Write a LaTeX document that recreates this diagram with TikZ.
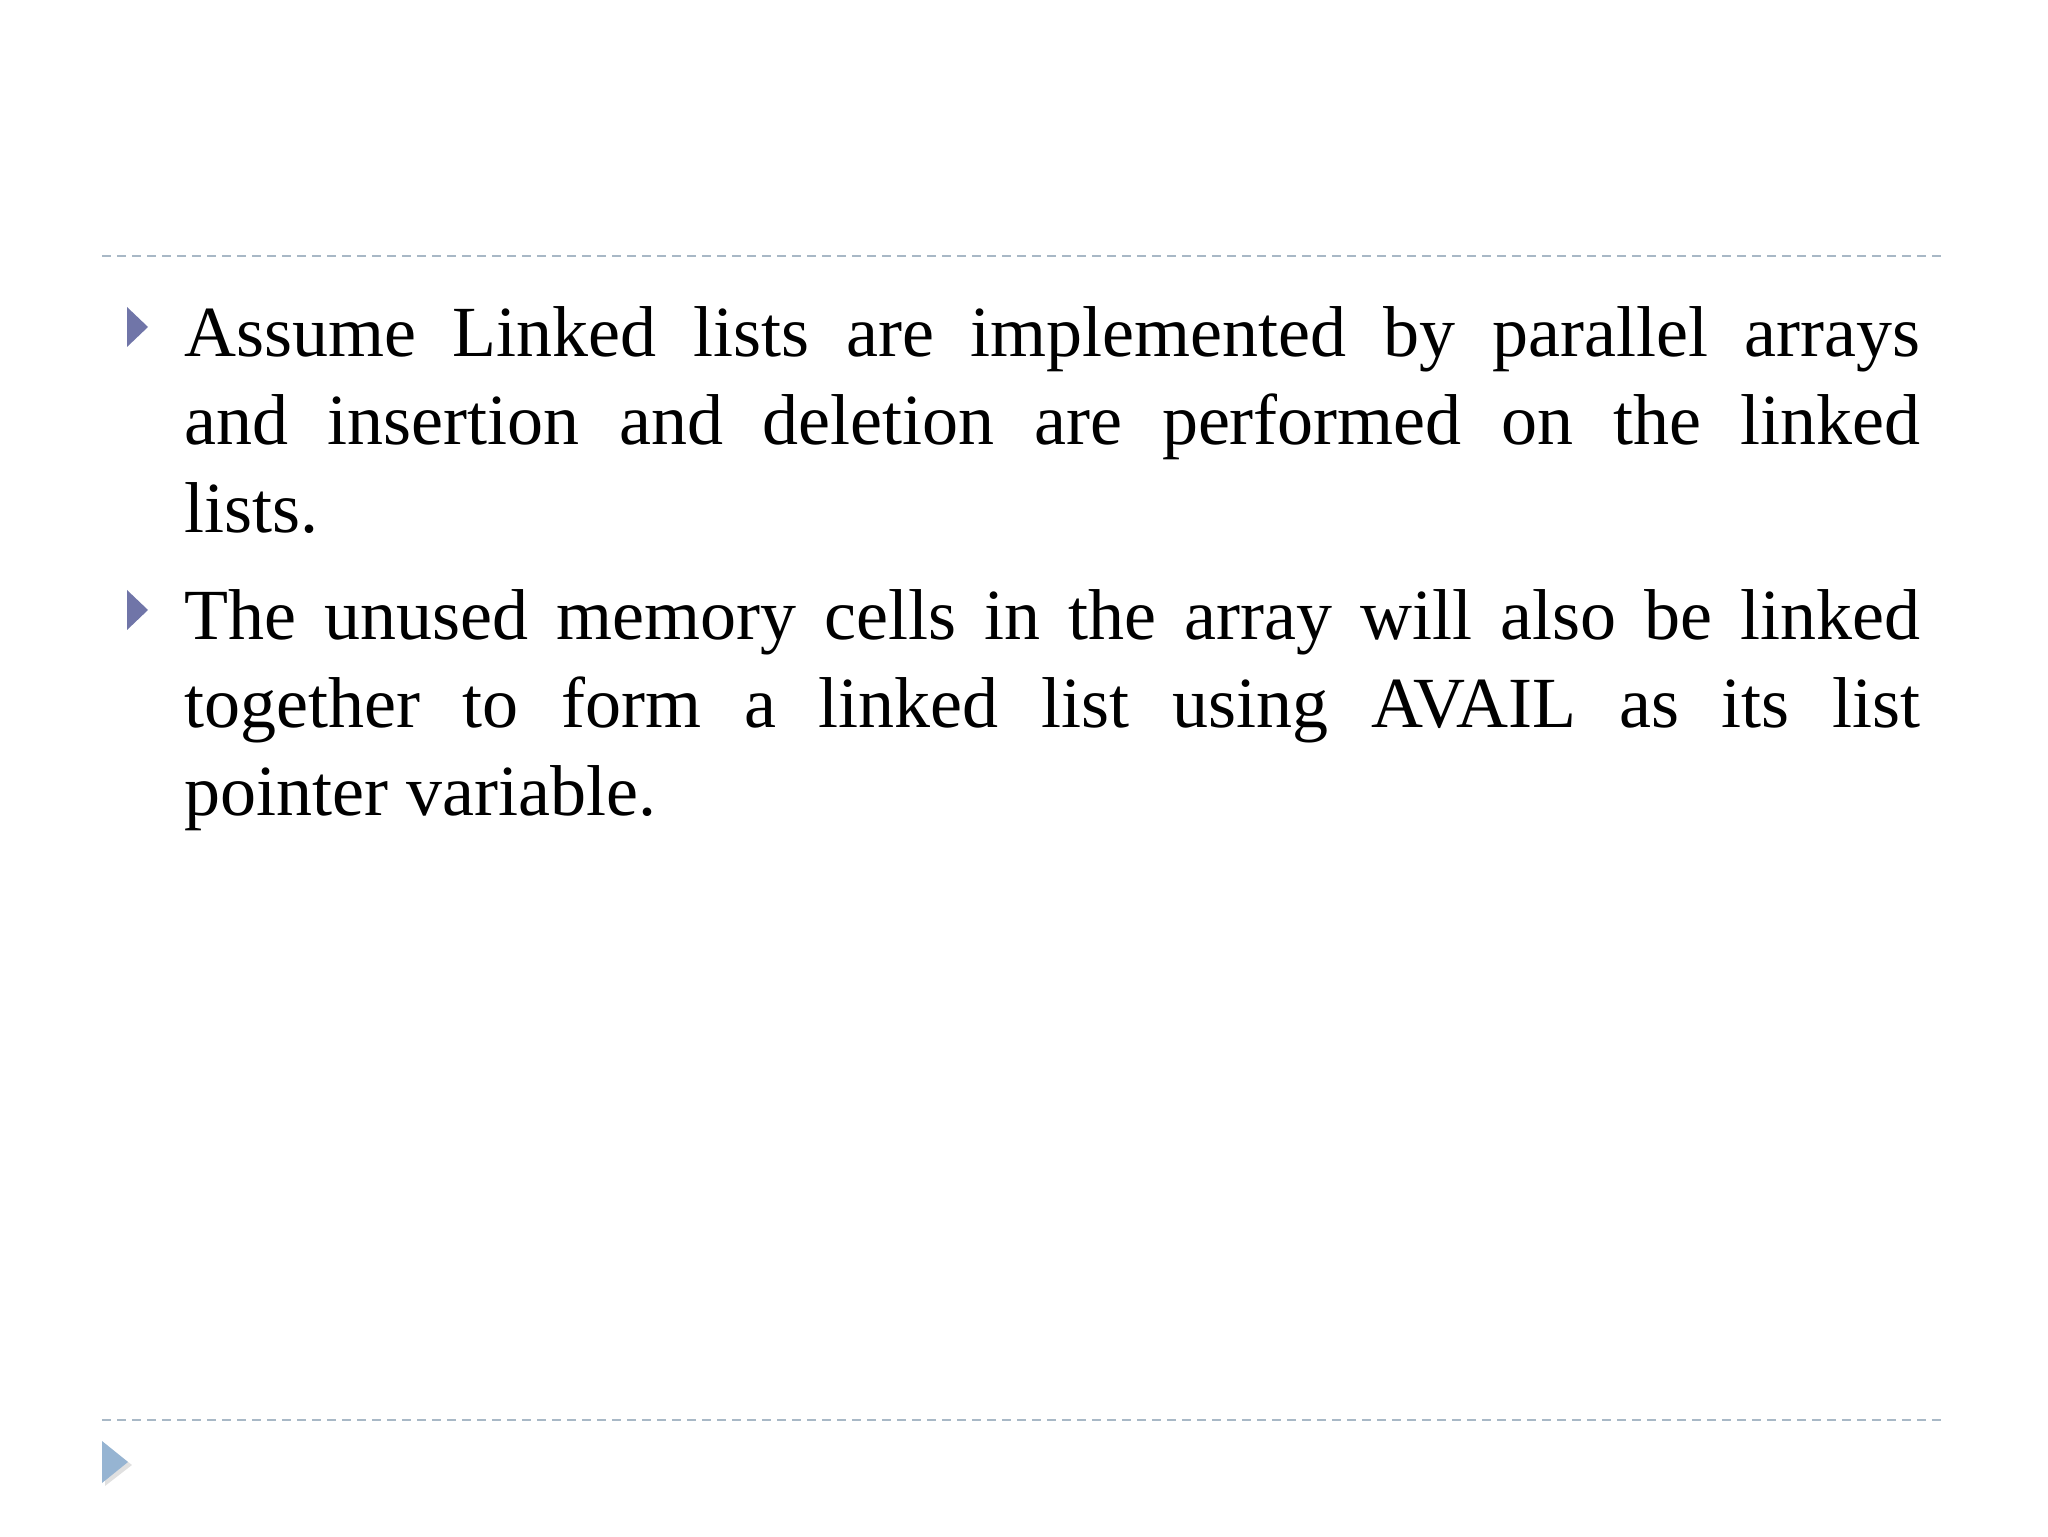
\documentclass[tikz,border=0pt]{standalone}
\usepackage{fontspec}
\setmainfont{Liberation Serif}

\definecolor{rulegray}{RGB}{168,184,198}
\definecolor{bulletblue}{RGB}{112,117,168}
\definecolor{cornerblue}{RGB}{150,180,210}

\begin{document}
\begin{tikzpicture}[x=0.5pt, y=0.5pt,
  rule/.style={draw=rulegray, line width=1pt, dash pattern=on 4.5pt off 3pt},
  item/.style={anchor=base west, inner sep=0pt, text width=868pt, align=justify,
    font=\fontsize{36}{44}\selectfont}]
  \useasboundingbox (0,0) rectangle (2048,1536);

  \coordinate (TL) at (102,1280);
  \coordinate (TR) at (1942,1280);
  \coordinate (BL) at (102,116);
  \coordinate (BR) at (1942,116);

  \draw[rule] (TL) -- (TR);
  \draw[rule] (BL) -- (BR);

  \node[item] (first) at (184,1179) {\hyphenpenalty=10000
    Assume Linked lists are implemented by parallel arrays\linebreak
    and insertion and deletion are performed on the linked\linebreak
    lists.};
  \node[item] (second) at (184,896) {\hyphenpenalty=10000
    The unused memory cells in the array will also be linked\linebreak
    together to form a linked list using AVAIL as its list\linebreak
    pointer variable.};

  % bullets
  \fill[bulletblue] (127,1229) -- (148,1209) -- (127,1189) -- cycle;
  \fill[bulletblue] (127,946) -- (148,926) -- (127,906) -- cycle;

  \fill[black, opacity=0.12] (105,92) -- (132,71) -- (105,50) -- cycle;
  \fill[cornerblue] (102,95) -- (128,74) -- (102,53) -- cycle;
\end{tikzpicture}
\end{document}
